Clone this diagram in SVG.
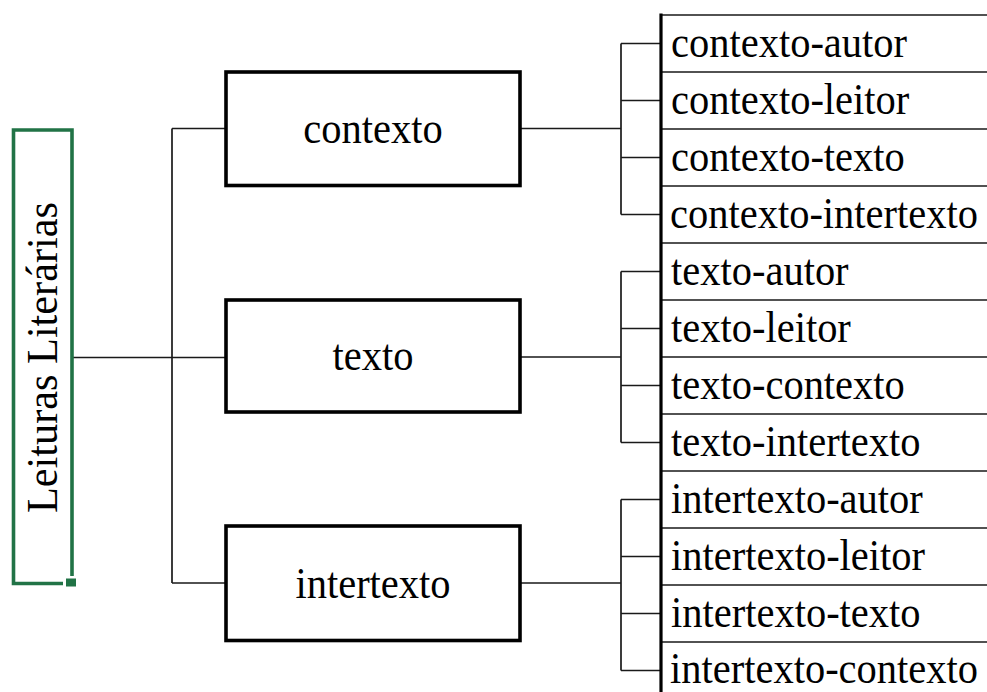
<svg xmlns="http://www.w3.org/2000/svg" width="987" height="692" viewBox="0 0 987 692">
<style>
.t{font-family:"Liberation Serif","Times New Roman",serif;font-size:45px;fill:#000}
.s{font-family:"Liberation Serif","Times New Roman",serif;font-size:40.5px;fill:#000}
.c{stroke:#1a1a1a;stroke-width:1.7;fill:none}
.box{fill:#fff;stroke:#000;stroke-width:3.6}
.row{stroke:#1a1a1a;stroke-width:1.7}
</style>
<rect width="987" height="692" fill="#fff"/>
<g id="connectors">
<path class="c" d="M72 357.5H227M172 128.5V583M172 128.5H227M172 583H227"/>
<path class="c" d="M520 128.5H621M621 43.5V214.5M621 43.5H661M621 100.5H661M621 157.5H661M621 214.5H661"/>
<path class="c" d="M520 357H621M621 271.5V442.5M621 271.5H661M621 328.5H661M621 385.5H661M621 442.5H661"/>
<path class="c" d="M520 583H621M621 499.5V670.5M621 499.5H661M621 556.5H661M621 613.5H661M621 670.5H661"/>
</g>
<g id="root">
<path d="M63 583.5H13.5V130H72V576" fill="none" stroke="#217346" stroke-width="3.6"/>
<rect x="65.5" y="578" width="11" height="9" fill="#217346" stroke="#fff" stroke-width="1"/>
<text class="t" transform="translate(57 357.5) rotate(-90)" text-anchor="middle" textLength="311" lengthAdjust="spacingAndGlyphs">Leituras Literárias</text>
</g>
<g id="contexto">
<rect class="box" x="226" y="72" width="294" height="113.5"/>
<text class="s" transform="translate(373 143) scale(1 1.11)" text-anchor="middle">contexto</text>
</g>
<g id="texto">
<rect class="box" x="226" y="300" width="294" height="112"/>
<text class="s" transform="translate(373 370) scale(1 1.11)" text-anchor="middle">texto</text>
</g>
<g id="intertexto">
<rect class="box" x="226" y="526" width="294" height="114.5"/>
<text class="s" transform="translate(373 598) scale(1 1.11)" text-anchor="middle">intertexto</text>
</g>
<g id="list">
<path class="row" d="M661 15H987M661 72H987M661 129H987M661 186H987M661 243H987M661 300H987M661 357H987M661 414H987M661 471H987M661 528H987M661 585H987M661 642H987"/>
<path d="M661 13.5V692" stroke="#000" stroke-width="3.2"/>
</g>
<g id="contexto-autor"><text class="s" transform="translate(671 57) scale(1 1.11)">contexto-autor</text></g>
<g id="contexto-leitor"><text class="s" transform="translate(671 114) scale(1 1.11)">contexto-leitor</text></g>
<g id="contexto-texto"><text class="s" transform="translate(671 171) scale(1 1.11)">contexto-texto</text></g>
<g id="contexto-intertexto"><text class="s" transform="translate(670 228) scale(1 1.11)">contexto-intertexto</text></g>
<g id="texto-autor"><text class="s" transform="translate(671 285) scale(1 1.11)">texto-autor</text></g>
<g id="texto-leitor"><text class="s" transform="translate(671 342) scale(1 1.11)">texto-leitor</text></g>
<g id="texto-contexto"><text class="s" transform="translate(671 399) scale(1 1.11)">texto-contexto</text></g>
<g id="texto-intertexto"><text class="s" transform="translate(671 456) scale(1 1.11)">texto-intertexto</text></g>
<g id="intertexto-autor"><text class="s" transform="translate(671 513) scale(1 1.11)">intertexto-autor</text></g>
<g id="intertexto-leitor"><text class="s" transform="translate(671 570) scale(1 1.11)">intertexto-leitor</text></g>
<g id="intertexto-texto"><text class="s" transform="translate(671 627) scale(1 1.11)">intertexto-texto</text></g>
<g id="intertexto-contexto"><text class="s" transform="translate(670 683) scale(1 1.11)">intertexto-contexto</text></g>
</svg>
